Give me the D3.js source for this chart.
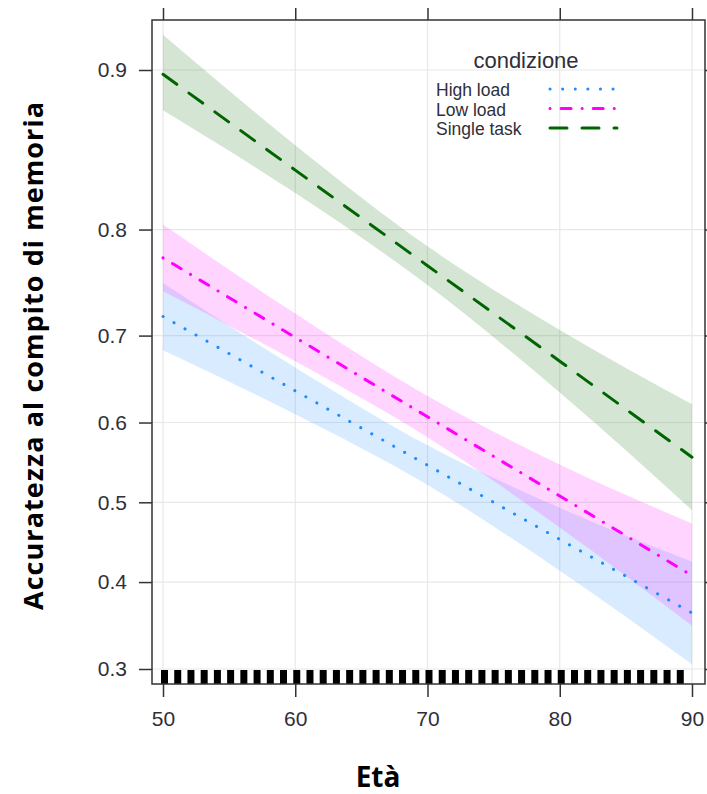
<!DOCTYPE html>
<html>
<head>
<meta charset="utf-8">
<script src="https://cdn.jsdelivr.net/npm/d3@7"></script>
<style>
  body { margin: 0; background: #fff; }
  svg { display: block; }
</style>
</head>
<body>
<div id="chart"></div>
<script>
// Values (probability scale)
const ages = [50, 60, 70, 80, 90];
const conditions = ["High load", "Low load", "Single task"];

const highFit = [0.720, 0.638, 0.547, 0.453, 0.363];
const highLower = [0.684, 0.610, 0.522, 0.414, 0.305];
const highUpper = [0.753, 0.665, 0.572, 0.493, 0.425];

const lowFit = [0.776, 0.698, 0.607, 0.508, 0.408];
const lowLower = [0.745, 0.672, 0.582, 0.468, 0.348];
const lowUpper = [0.804, 0.723, 0.632, 0.548, 0.473];

const singleFit = [0.898, 0.844, 0.769, 0.672, 0.557];
const singleLower = [0.880, 0.828, 0.751, 0.636, 0.490];
const singleUpper = [0.915, 0.860, 0.786, 0.706, 0.622];

// observed ages shown as a rug
const rugAges = [50, 51, 52, 53, 54, 55, 56, 57, 58, 59, 60, 61, 62, 63, 64, 65, 66, 67, 68, 69,
                 70, 71, 72, 73, 74, 75, 76, 77, 78, 79, 80, 81, 82, 83, 84, 85, 86, 87, 88, 89];

const xTicks = [50, 60, 70, 80, 90];
const yTicks = [0.3, 0.4, 0.5, 0.6, 0.7, 0.8, 0.9];

const logit = p => Math.log(p / (1 - p));

const width = 707, height = 794;
const box = {left: 152, right: 705, top: 20, bottom: 684};

const svg = d3.select("#chart")
    .append("svg")
    .attr("width", width)
    .attr("height", height);

// Scales: y is linear in logit space
const x = d3.scaleLinear().domain([50, 90]).range([163, 692]);
const y = d3.scaleLinear().domain([logit(0.3), logit(0.9)]).range([669, 70]);

// Grid lines
const grid = svg.append("g");
grid.selectAll(".gx").data(xTicks).enter().append("line")
    .attr("x1", d => x(d)).attr("x2", d => x(d))
    .attr("y1", box.top).attr("y2", box.bottom)
    .attr("stroke", "#e8e8e8").attr("stroke-width", 1.2);
grid.selectAll(".gy").data(yTicks).enter().append("line")
    .attr("x1", box.left).attr("x2", box.right)
    .attr("y1", d => y(logit(d))).attr("y2", d => y(logit(d)))
    .attr("stroke", "#e8e8e8").attr("stroke-width", 1.2);

// Series
const series = [
    {name: conditions[0], fit: highFit, lower: highLower, upper: highUpper,
     color: "#1e8cff", fill: "#1e90ff", dash: "0.1,12.5"},
    {name: conditions[1], fit: lowFit, lower: lowLower, upper: lowUpper,
     color: "#ff00ff", fill: "#ff00ff", dash: "0.1,11,10,11"},
    {name: conditions[2], fit: singleFit, lower: singleLower, upper: singleUpper,
     color: "#006400", fill: "#006400", dash: "17,15"}
];

const area = d3.area()
    .x(d => x(d.age))
    .y0(d => y(logit(d.lower)))
    .y1(d => y(logit(d.upper)))
    .curve(d3.curveMonotoneX);

const line = d3.line()
    .x(d => x(d.age))
    .y(d => y(logit(d.fit)));

const plot = svg.append("g");

// Bands first, then the fitted lines
series.forEach(s => {
    const rows = ages.map((a, i) => ({age: a, fit: s.fit[i], lower: s.lower[i], upper: s.upper[i]}));
    plot.append("path")
        .datum(rows)
        .attr("d", area)
        .attr("fill", s.fill)
        .attr("fill-opacity", 0.17)
        .attr("stroke", "none");
});

series.forEach(s => {
    const rows = ages.map((a, i) => ({age: a, fit: s.fit[i]}));
    plot.append("path")
        .datum(rows)
        .attr("d", line)
        .attr("fill", "none")
        .attr("stroke", s.color)
        .attr("stroke-width", 3)
        .attr("stroke-linecap", "round")
        .attr("stroke-dasharray", s.dash);
});

// Rug
svg.append("g").selectAll("line")
    .data(rugAges).enter().append("line")
    .attr("x1", d => x(d) + 1.5).attr("x2", d => x(d) + 1.5)
    .attr("y1", box.bottom - 14).attr("y2", box.bottom)
    .attr("stroke", "#000").attr("stroke-width", 7);

// Axes (ticks on all four sides, labels left and bottom)
const tickCol = "#333";
const fmt = d3.format(".1f");

const axL = svg.append("g")
    .attr("transform", `translate(${box.left},0)`)
    .call(d3.axisLeft(y).tickValues(yTicks.map(logit)).tickSize(13).tickPadding(12)
        .tickFormat(d => fmt(1 / (1 + Math.exp(-d)))));
const axR = svg.append("g")
    .attr("transform", `translate(${box.right},0)`)
    .call(d3.axisRight(y).tickValues(yTicks.map(logit)).tickSize(13).tickFormat(""));
const axB = svg.append("g")
    .attr("transform", `translate(0,${box.bottom})`)
    .call(d3.axisBottom(x).tickValues(xTicks).tickSize(13).tickPadding(14).tickFormat(d3.format("d")));
const axT = svg.append("g")
    .attr("transform", `translate(0,${box.top})`)
    .call(d3.axisTop(x).tickValues(xTicks).tickSize(12).tickFormat(""));

[axL, axR, axB, axT].forEach(ax => {
    ax.select(".domain").remove();
    ax.selectAll(".tick line").attr("stroke", tickCol).attr("stroke-width", 1.5);
    ax.selectAll(".tick text")
        .attr("fill", "#2f2f3a")
        .style("font-family", "'Liberation Sans', Arial, sans-serif")
        .style("font-size", "21px");
});

// Box
svg.append("rect")
    .attr("x", box.left).attr("y", box.top)
    .attr("width", box.right - box.left).attr("height", box.bottom - box.top)
    .attr("fill", "none").attr("stroke", tickCol).attr("stroke-width", 1.5);

// Legend
const legend = svg.append("g")
    .style("font-family", "'Liberation Sans', Arial, sans-serif")
    .attr("fill", "#2f2f3a");
legend.append("text")
    .attr("x", 526).attr("y", 68)
    .attr("text-anchor", "middle")
    .style("font-size", "22px")
    .text("condizione");

const items = legend.selectAll(".item")
    .data(series).enter().append("g")
    .attr("transform", (d, i) => `translate(0,${i * 19.5})`);
items.append("text")
    .attr("x", 436).attr("y", 96)
    .style("font-size", "17.5px")
    .text(d => d.name);
items.append("line")
    .attr("x1", 550).attr("x2", 617)
    .attr("y1", 89).attr("y2", 89)
    .attr("stroke", d => d.color)
    .attr("stroke-width", 3)
    .attr("stroke-linecap", "round")
    .attr("stroke-dasharray", d => d.dash);

// Axis titles
svg.append("text")
    .attr("transform", "translate(43,356) rotate(-90)")
    .attr("text-anchor", "middle")
    .attr("textLength", 508)
    .attr("lengthAdjust", "spacing")
    .style("font-family", "'Open Sans', sans-serif")
    .style("font-weight", "bold")
    .style("font-size", "27px")
    .attr("fill", "#000")
    .text("Accuratezza al compito di memoria");

svg.append("text")
    .attr("x", 378).attr("y", 787)
    .attr("text-anchor", "middle")
    .style("font-family", "'Open Sans', sans-serif")
    .style("font-weight", "bold")
    .style("font-size", "28px")
    .attr("fill", "#000")
    .text("Età");
</script>
</body>
</html>
